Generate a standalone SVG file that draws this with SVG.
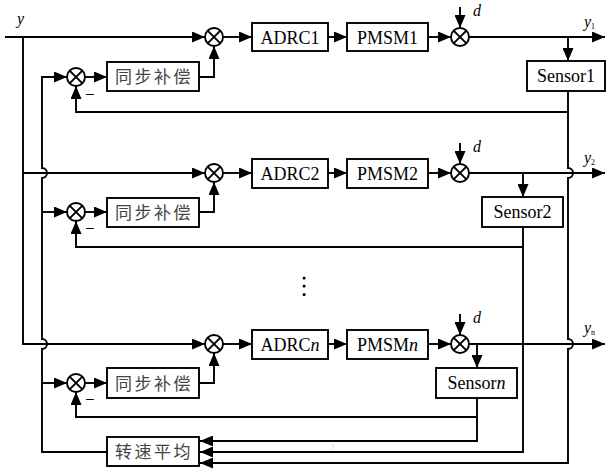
<svg xmlns="http://www.w3.org/2000/svg" width="607" height="469" viewBox="0 0 607 469">
<style>
.ln{fill:none;stroke:#000;stroke-width:1.9}
.ar{fill:none;stroke:#000;stroke-width:1.9;marker-end:url(#arr)}
.bx{fill:#fff;stroke:#000;stroke-width:1.9}
.sm{fill:#fff;stroke:#000;stroke-width:1.9}
.tx{font-size:18px;fill:#000;text-anchor:middle}
.cn{font-size:17px;fill:#444;text-anchor:middle;letter-spacing:2.5px}
.it{font-style:italic;font-size:16px;fill:#000}
.sub{font-size:8px;font-style:normal}
</style>
<defs>
<marker id="arr" markerUnits="userSpaceOnUse" markerWidth="13" markerHeight="11" refX="13" refY="5.5" orient="auto">
<path d="M0,0 L13,5.5 L0,11 z" fill="#000"/>
</marker>
<g id="sumX">
<circle r="9" class="sm"/>
<path d="M-6.4,-6.4 L6.4,6.4 M-6.4,6.4 L6.4,-6.4" class="ln"/>
</g>
</defs>

<g id="connectors">
<path class="ar" d="M5,37 H205"/>
<path class="ar" d="M23,37 V344 H205"/>
<path class="ar" d="M23,173 H205"/>
<path class="ar" d="M107,452 H42 V349 A5,5 0 0,0 42,339 V178 A5,5 0 0,0 42,168 V77 H67"/>
<path class="ar" d="M42,212 H67"/>
<path class="ar" d="M42,383 H67"/>
<path class="ar" d="M223,37 H252"/>
<path class="ar" d="M328,37 H347"/>
<path class="ar" d="M428,37 H451"/>
<path class="ar" d="M460,7 V28"/>
<path class="ar" d="M469,37 H605"/>
<path class="ar" d="M568,37 V61"/>
<path class="ar" d="M85,77 H107"/>
<path class="ar" d="M199,77 H214 V46"/>
<path class="ar" d="M568,112 H76 V86"/>
<path class="ar" d="M568,91 V168 A5,5 0 0,1 568,178 V339 A5,5 0 0,1 568,349 V463 H200"/>
<path class="ar" d="M223,173 H252"/>
<path class="ar" d="M328,173 H347"/>
<path class="ar" d="M428,173 H451"/>
<path class="ar" d="M460,143 V164"/>
<path class="ar" d="M469,173 H605"/>
<path class="ar" d="M523,173 V197"/>
<path class="ar" d="M85,212 H107"/>
<path class="ar" d="M199,212 H214 V182"/>
<path class="ar" d="M523,247 H76 V221"/>
<path class="ar" d="M523,227 V452 H200"/>
<path class="ar" d="M223,344 H252"/>
<path class="ar" d="M328,344 H347"/>
<path class="ar" d="M428,344 H451"/>
<path class="ar" d="M460,314 V335"/>
<path class="ar" d="M469,344 H605"/>
<path class="ar" d="M477,344 V368"/>
<path class="ar" d="M85,383 H107"/>
<path class="ar" d="M199,383 H214 V353"/>
<path class="ar" d="M477,417 H76 V392"/>
<path class="ar" d="M477,398 V441 H200"/>
</g>

<g font-family="'Liberation Serif', 'Times New Roman', serif">
<g id="sum1"><use href="#sumX" x="214" y="37"/></g>
<g id="adrc1"><rect class="bx" x="252" y="23" width="76" height="28"/><text class="tx" x="290" y="43.5">ADRC1</text></g>
<g id="pmsm1"><rect class="bx" x="347" y="23" width="81" height="28"/><text class="tx" x="387.5" y="43.5">PMSM1</text></g>
<g id="dsum1"><use href="#sumX" x="460" y="37"/></g>
<g id="sensor1"><rect class="bx" x="527" y="61" width="78" height="30"/><text class="tx" x="566" y="82">Sensor1</text></g>
<g id="ssum1"><use href="#sumX" x="76" y="77"/></g>
<g id="sync1"><rect class="bx" x="107" y="62" width="92" height="29"/><text class="cn" font-family="'Noto Sans CJK SC', sans-serif" x="154" y="83">同步补偿</text></g>

<g id="sum2"><use href="#sumX" x="214" y="173"/></g>
<g id="adrc2"><rect class="bx" x="252" y="159" width="76" height="29"/><text class="tx" x="290" y="180">ADRC2</text></g>
<g id="pmsm2"><rect class="bx" x="347" y="159" width="81" height="29"/><text class="tx" x="387.5" y="180">PMSM2</text></g>
<g id="dsum2"><use href="#sumX" x="460" y="173"/></g>
<g id="sensor2"><rect class="bx" x="482" y="197" width="81" height="30"/><text class="tx" x="522.5" y="218">Sensor2</text></g>
<g id="ssum2"><use href="#sumX" x="76" y="212"/></g>
<g id="sync2"><rect class="bx" x="107" y="198" width="92" height="29"/><text class="cn" font-family="'Noto Sans CJK SC', sans-serif" x="154" y="219">同步补偿</text></g>

<g id="sumn"><use href="#sumX" x="214" y="344"/></g>
<g id="adrcn"><rect class="bx" x="252" y="330" width="76" height="29"/><text class="tx" x="290" y="351">ADRC<tspan font-style="italic">n</tspan></text></g>
<g id="pmsmn"><rect class="bx" x="347" y="330" width="81" height="29"/><text class="tx" x="387.5" y="351">PMSM<tspan font-style="italic">n</tspan></text></g>
<g id="dsumn"><use href="#sumX" x="460" y="344"/></g>
<g id="sensorn"><rect class="bx" x="436" y="368" width="81" height="30"/><text class="tx" x="476.5" y="389">Sensor<tspan font-style="italic">n</tspan></text></g>
<g id="ssumn"><use href="#sumX" x="76" y="383"/></g>
<g id="syncn"><rect class="bx" x="107" y="368" width="92" height="30"/><text class="cn" font-family="'Noto Sans CJK SC', sans-serif" x="154" y="390">同步补偿</text></g>

<g id="avg"><rect class="bx" x="107" y="437" width="92" height="29"/><text class="cn" font-family="'Noto Sans CJK SC', sans-serif" x="154" y="458">转速平均</text></g>

<g id="labels">
<text class="it" x="17" y="24">y</text>
<text class="it" x="473" y="16">d</text>
<text class="it" x="473" y="152">d</text>
<text class="it" x="473" y="323">d</text>
<text class="it" x="584" y="27" font-size="14">y<tspan class="sub" dy="2">1</tspan></text>
<text class="it" x="584" y="163" font-size="14">y<tspan class="sub" dy="2">2</tspan></text>
<text class="it" x="584" y="333" font-size="14">y<tspan class="sub" dy="2" font-style="italic">n</tspan></text>
<text x="90" y="98" font-family="'Liberation Sans', sans-serif" font-size="14" fill="#000" text-anchor="middle">–</text>
<text x="90" y="232" font-family="'Liberation Sans', sans-serif" font-size="14" fill="#000" text-anchor="middle">–</text>
<text x="90" y="403" font-family="'Liberation Sans', sans-serif" font-size="14" fill="#000" text-anchor="middle">–</text>
</g>
</g>

<g id="ellipsis" fill="#000">
<rect x="302.8" y="276.8" width="2.6" height="2.6"/>
<rect x="302.8" y="284.8" width="2.6" height="2.6"/>
<rect x="302.8" y="293.3" width="2.6" height="2.6"/>
</g>
<g id="tinydots" fill="#999">
<rect x="332.5" y="441.5" width="1" height="1"/>
<rect x="332.5" y="444.5" width="1" height="1"/>
<rect x="332.5" y="447.5" width="1" height="1"/>
</g>
</svg>
